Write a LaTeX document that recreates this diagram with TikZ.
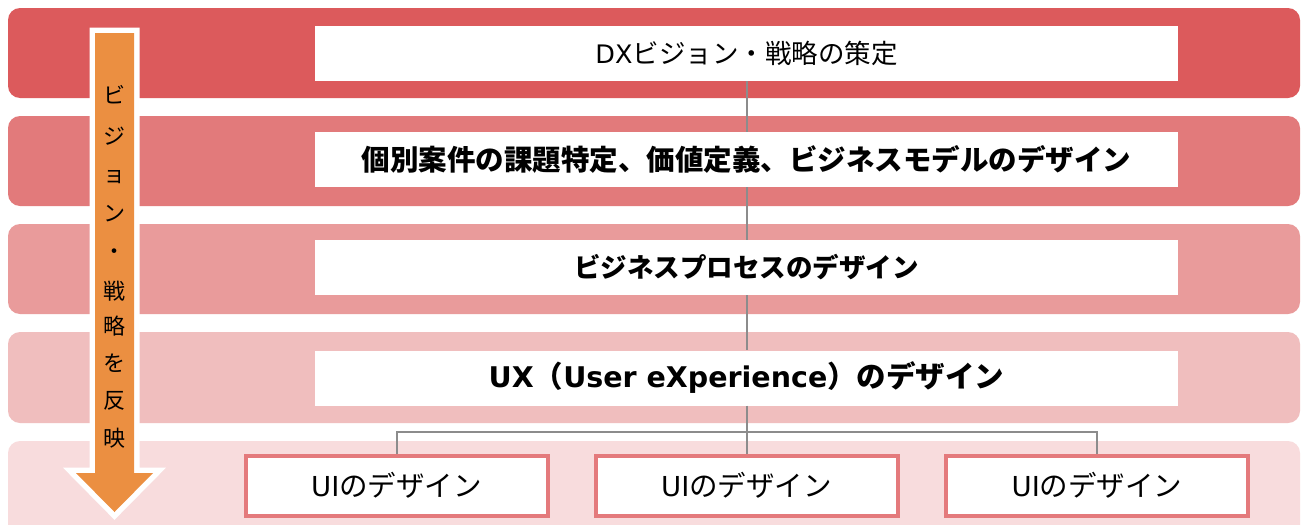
\documentclass[tikz,border=0pt]{standalone}
\usepackage{fontspec}
\setmainfont{Noto Sans CJK JP}
\newfontfamily\lat{DejaVu Sans}
\definecolor{bandA}{HTML}{DC5A5C}
\definecolor{bandB}{HTML}{E27A7B}
\definecolor{bandC}{HTML}{E99B9B}
\definecolor{bandD}{HTML}{F0BEBE}
\definecolor{bandE}{HTML}{F8DCDD}
\definecolor{arrowor}{HTML}{EB8F41}
\definecolor{uiborder}{HTML}{E47A7C}
\definecolor{conngrey}{HTML}{8C8C8C}
\tikzset{
  band/.style={rounded corners=12pt},
  wbox/.style={fill=white, minimum width=863pt, minimum height=55pt, inner sep=0pt, font=\fontsize{26.5}{30}\selectfont},
  uibox/.style={fill=white, draw=uiborder, line width=4pt, minimum width=302pt, minimum height=60pt, inner sep=0pt, font=\fontsize{28.5}{32}\selectfont},
  conn/.style={draw=conngrey, line width=2pt},
  vtext/.style={font=\fontsize{22}{24}\selectfont, inner sep=0pt}
}
\begin{document}
\begin{tikzpicture}[x=1pt,y=-1pt]
\useasboundingbox (0,0) rectangle (1302,525);
\clip (0,0) rectangle (1302,525);
\fill[white] (0,0) rectangle (1302,525);
\fill[bandA,band] (8,8) rectangle (1300,98);
\fill[bandB,band] (8,116) rectangle (1300,206);
\fill[bandC,band] (8,224) rectangle (1300,314);
\fill[bandD,band] (8,332) rectangle (1300,423);
\fill[bandE,band] (8,441) rectangle (1300,560);

\node[wbox] (b1) at (746.5,53.5) {{\lat\fontsize{25.5}{30}\selectfont DX}ビジョン・戦略の策定};
\node[wbox, font=\fontsize{28.5}{32}\selectfont] (b2) at (746.5,159.5) {\bfseries 個別案件の課題特定、価値定義、ビジネスモデルのデザイン};
\node[wbox, font=\fontsize{26.5}{30}\selectfont] (b3) at (746.5,267.5) {\bfseries ビジネスプロセスのデザイン};
\node[wbox, font=\fontsize{29.5}{32}\selectfont] (b4) at (746.5,378) {\bfseries {\lat\fontsize{28.5}{32}\selectfont UX}（{\lat\fontsize{28.5}{32}\selectfont User eXperience}）のデザイン};

\node[uibox] (u1) at (396.5,485.5) {{\lat\fontsize{27.5}{32}\selectfont UI}のデザイン};
\node[uibox] (u2) at (746.5,485.5) {{\lat\fontsize{27.5}{32}\selectfont UI}のデザイン};
\node[uibox] (u3) at (1097,485.5) {{\lat\fontsize{27.5}{32}\selectfont UI}のデザイン};

\draw[conn] (b1) -- (b2);
\draw[conn] (b2) -- (b3);
\draw[conn] (b3) -- (b4);
\coordinate (j) at (746.5,432);
\draw[conn] (b4.south) -- (u2.north);
\draw[conn] (u1.north) |- (j) -| (u3.north);

\draw[white, line width=11pt, line join=miter]
  (95,33) -- (134,33) -- (134,473) -- (153,473) -- (114.5,512) -- (76,473) -- (95,473) -- cycle;
\fill[arrowor]
  (95,33) -- (134,33) -- (134,473) -- (153,473) -- (114.5,512) -- (76,473) -- (95,473) -- cycle;

\node[vtext] (c1) at (114.5,95) {ビ};
\node[vtext] (c2) at (114.5,136) {ジ};
\node[vtext] (c3) at (114.5,177) {ョ};
\node[vtext] (c4) at (114.5,214) {ン};
\node[vtext] (c5) at (114.5,254) {・};
\node[vtext] (c6) at (114.5,291) {戦};
\node[vtext] (c7) at (114.5,326) {略};
\node[vtext] (c8) at (114.5,363) {を};
\node[vtext] (c9) at (114.5,401) {反};
\node[vtext] (c10) at (114.5,438) {映};
\end{tikzpicture}
\end{document}
